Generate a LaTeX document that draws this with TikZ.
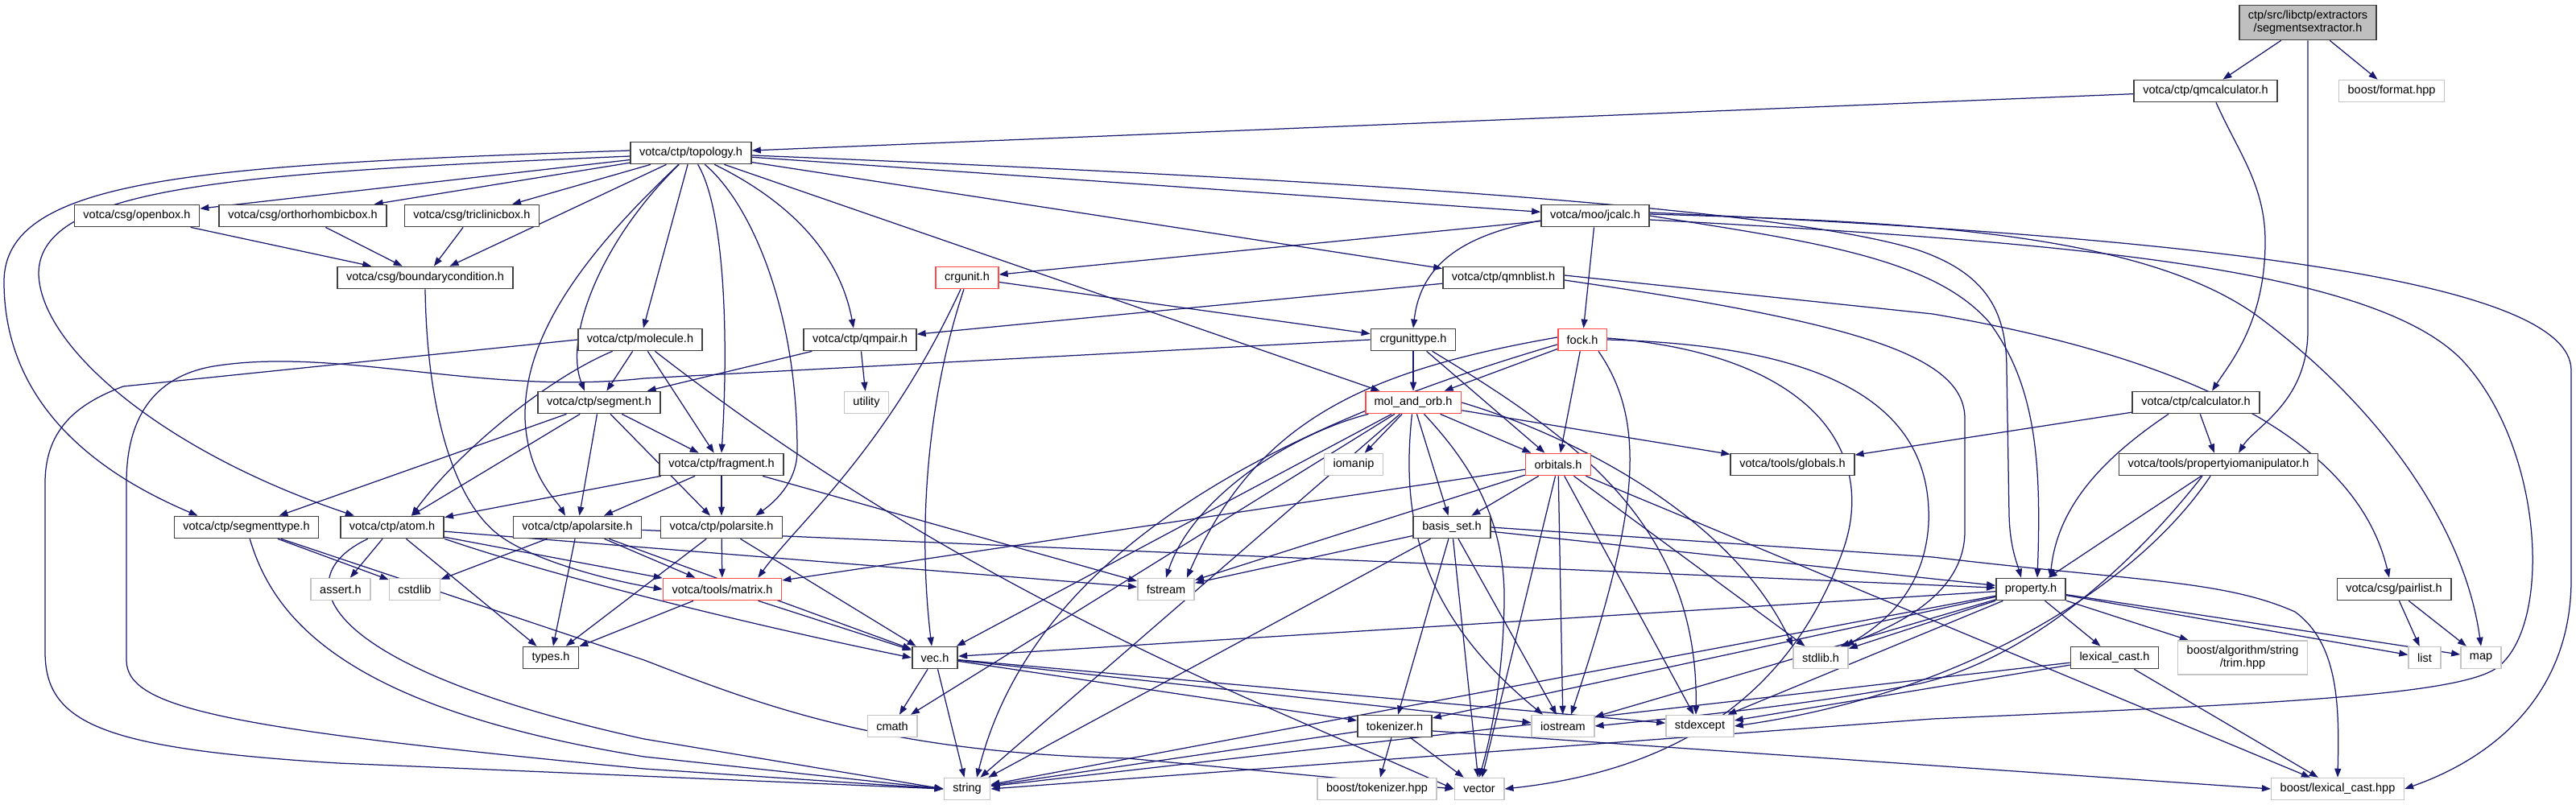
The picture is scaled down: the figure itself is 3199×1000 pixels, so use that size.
\documentclass[tikz,border=0pt]{standalone}
\usepackage{fontspec}
\setmainfont{Liberation Sans}
\usetikzlibrary{arrows.meta}
\definecolor{edgec}{HTML}{191970}
\definecolor{nodeb}{HTML}{404040}
\definecolor{redb}{HTML}{FF4A4A}
\definecolor{grayb}{HTML}{C4C4C4}
\definecolor{rootf}{HTML}{BFBFBF}
\pgfdeclarelayer{edgelayer}
\pgfsetlayers{edgelayer,main}
\begin{document}
\begin{tikzpicture}[x=1pt,y=-1pt,
  nb/.style={draw=nodeb, line width=1.7pt, fill=white, minimum height=27pt, inner xsep=11pt, inner ysep=2pt, font=\fontsize{14.5}{16}\selectfont},
  nr/.style={nb, draw=redb},
  ng/.style={nb, draw=grayb, line width=1.5pt},
  nroot/.style={nb, fill=rootf, align=center, minimum height=43pt, inner ysep=3pt},
  dep/.style={draw=edgec, line width=1.25pt, -{Triangle[length=11pt,width=8pt]}, fill=none},
]
\useasboundingbox (0,0) rectangle (3199,1000);

\node[nroot] (root) at (2866,28) {ctp/src/libctp/extractors\\/segmentsextractor.h};
\node[nb] (qmcalc) at (2739,113) {votca/ctp/qmcalculator.h};
\node[ng] (format) at (2970,113) {boost/format.hpp};
\node[nb] (topology) at (858,190) {votca/ctp/topology.h};
\node[nb] (openbox) at (170,268) {votca/csg/openbox.h};
\node[nb] (ortho) at (376,268) {votca/csg/orthorhombicbox.h};
\node[nb] (triclinic) at (586,268) {votca/csg/triclinicbox.h};
\node[nb] (jcalc) at (1981,268) {votca/moo/jcalc.h};
\node[nb] (boundary) at (528,345) {votca/csg/boundarycondition.h};
\node[nr] (crgunit) at (1201,345) {crgunit.h};
\node[nb] (qmnblist) at (1867,345) {votca/ctp/qmnblist.h};
\node[nb] (molecule) at (795,422) {votca/ctp/molecule.h};
\node[nb] (qmpair) at (1068,422) {votca/ctp/qmpair.h};
\node[nb] (crgunittype) at (1755,422) {crgunittype.h};
\node[nr] (fock) at (1965,422) {fock.h};
\node[nb] (segment) at (744,500) {votca/ctp/segment.h};
\node[ng] (utility) at (1076,500) {utility};
\node[nr] (molorb) at (1755,500) {mol\_and\_orb.h};
\node[nb] (calculator) at (2727,500) {votca/ctp/calculator.h};
\node[nb] (fragment) at (896,577) {votca/ctp/fragment.h};
\node[ng] (iomanip) at (1681,577) {iomanip};
\node[nr] (orbitals) at (1935,577) {orbitals.h};
\node[nb] (globals) at (2226,577) {votca/tools/globals.h};
\node[nb] (propio) at (2755,577) {votca/tools/propertyiomanipulator.h};
\node[nb] (segmenttype) at (306,655) {votca/ctp/segmenttype.h};
\node[nb] (atom) at (487,655) {votca/ctp/atom.h};
\node[nb] (apolarsite) at (717,655) {votca/ctp/apolarsite.h};
\node[nb] (polarsite) at (896,655) {votca/ctp/polarsite.h};
\node[nb] (basisset) at (1803,655) {basis\_set.h};
\node[ng] (asserth) at (423,732) {assert.h};
\node[ng] (cstdlib) at (515,732) {cstdlib};
\node[nr] (matrix) at (897,732) {votca/tools/matrix.h};
\node[ng] (fstream) at (1448,732) {fstream};
\node[nb] (property) at (2522,732) {property.h};
\node[nb] (pairlist) at (2973,732) {votca/csg/pairlist.h};
\node[nb] (types) at (684,817) {types.h};
\node[nb] (vec) at (1161,817) {vec.h};
\node[ng] (stdlib) at (2261,817) {stdlib.h};
\node[nb] (lexcast) at (2626,817) {lexical\_cast.h};
\node[ng, align=center, minimum height=42pt] (trim) at (2785,817) {boost/algorithm/string\\/trim.hpp};
\node[ng] (listh) at (3011,817) {list};
\node[ng] (maph) at (3081,817) {map};
\node[ng] (cmath) at (1108,902) {cmath};
\node[nb] (tokenizer) at (1732,902) {tokenizer.h};
\node[ng] (iostream) at (1941,902) {iostream};
\node[ng] (stdexcept) at (2111,902) {stdexcept};
\node[ng] (stringh) at (1201,980) {string};
\node[ng] (boosttok) at (1710,980) {boost/tokenizer.hpp};
\node[ng] (vector) at (1837,980) {vector};
\node[ng] (boostlex) at (2903,980) {boost/lexical\_cast.hpp};

\begin{pgfonlayer}{edgelayer}
\foreach \s/\t in {root/qmcalc, root/format, qmcalc/topology, calculator/propio, calculator/globals,
  propio/property, topology/openbox, topology/ortho, topology/triclinic, topology/boundary,
  topology/molecule, topology/molorb, topology/jcalc, topology/qmnblist,
  openbox/boundary, ortho/boundary, triclinic/boundary, jcalc/crgunit, jcalc/fock,
  crgunit/crgunittype, qmnblist/qmpair, qmpair/segment, qmpair/utility,
  molecule/segment, molecule/fragment,
  segment/segmenttype, segment/atom, segment/apolarsite, segment/polarsite, segment/fragment,
  fragment/atom, fragment/apolarsite, fragment/polarsite, fragment/fstream,
  segmenttype/cstdlib, atom/asserth, atom/types, atom/matrix, atom/fstream,
  apolarsite/cstdlib, apolarsite/types, apolarsite/matrix, apolarsite/vec, apolarsite/property,
  polarsite/types, polarsite/matrix, polarsite/vec, matrix/types, matrix/vec,
  crgunittype/molorb, crgunittype/orbitals, fock/molorb, fock/orbitals,
  molorb/iomanip, molorb/orbitals, molorb/basisset, molorb/globals, molorb/vec, molorb/cmath, molorb/stringh,
  orbitals/basisset, orbitals/matrix, orbitals/fstream, orbitals/iostream, orbitals/vector,
  orbitals/stdexcept, orbitals/stdlib, orbitals/boostlex,
  basisset/tokenizer, basisset/property, basisset/fstream, basisset/iostream, basisset/vector, basisset/stringh,
  vec/cmath, vec/stringh, vec/iostream, vec/stdexcept, vec/tokenizer,
  tokenizer/boosttok, tokenizer/vector, tokenizer/stringh,
  lexcast/boostlex, lexcast/stringh, lexcast/stdexcept,
  property/vec, property/stdlib, property/iostream, property/stdexcept, property/stringh,
  property/tokenizer, property/lexcast, property/trim, property/listh, property/maph,
  pairlist/listh, pairlist/maph}
  \draw[dep] (\s) -- (\t);

\draw[dep] ([yshift=-6pt]tokenizer.east) -- (boostlex.west);
\draw[dep] (root.south) -- (2866,410) .. controls (2866,500) and (2800,530) .. ([xshift=25pt]propio.north);
\draw[dep] ([xshift=13pt]qmcalc.south) .. controls (2780,190) and (2813,230) .. (2813,300) .. controls (2813,400) and (2770,450) .. ([xshift=20pt]calculator.north);
\draw[dep] ([xshift=-34pt]calculator.south) .. controls (2610,570) and (2555,630) .. ([xshift=24pt]property.north);
\draw[dep] ([xshift=-20pt]propio.south) .. controls (2650,700) and (2520,820) .. (2380,850) .. controls (2250,875) and (2100,890) .. (iostream.east);
\draw[dep] ([xshift=-10pt]propio.south) .. controls (2660,720) and (2450,860) .. (stdexcept.east);
\draw[dep] ([yshift=3pt]topology.west) .. controls (250,205) and (5,220) .. (5,350) .. controls (5,520) and (150,600) .. ([xshift=30pt]segmenttype.north west);
\draw[dep] ([yshift=-4pt]topology.west) .. controls (300,215) and (48,230) .. (48,340) .. controls (50,430) and (200,560) .. ([xshift=18pt]atom.north west);
\draw[dep] (topology) .. controls (745,300) and (700,420) .. ([xshift=-18pt]segment.north);
\draw[dep] (topology) .. controls (720,320) and (650,420) .. (652,520) .. controls (655,590) and (690,620) .. ([xshift=-15pt]apolarsite.north);
\draw[dep] (topology) .. controls (900,260) and (905,420) .. (fragment.north);
\draw[dep] (topology) .. controls (930,250) and (990,380) .. (990,560) .. controls (990,600) and (960,625) .. ([xshift=-34pt]polarsite.north east);
\draw[dep] (topology) .. controls (960,240) and (1040,300) .. ([xshift=-8pt]qmpair.north);
\draw[dep] ([yshift=-3pt]topology.east) .. controls (1600,220) and (2200,255) .. (2380,310) .. controls (2470,340) and (2492,390) .. (2492,460) -- (2495,640) .. controls (2496,680) and (2505,700) .. ([xshift=-12pt]property.north);
\draw[dep] (jcalc.east) .. controls (2250,300) and (2400,320) .. (2470,400) .. controls (2530,480) and (2535,580) .. ([xshift=8pt]property.north);
\draw[dep] ([yshift=2pt]jcalc.east) .. controls (2350,275) and (2650,285) .. (2800,390) .. controls (2950,500) and (3060,650) .. (maph.north);
\draw[dep] ([yshift=4pt]jcalc.east) .. controls (2750,295) and (3193,350) .. (3193,460) -- (3193,720) .. controls (3193,860) and (3100,940) .. (boostlex.east);
\draw[dep] ([yshift=-5pt]jcalc.east) .. controls (2550,300) and (2950,330) .. (3060,450) .. controls (3160,560) and (3170,780) .. (3100,830) .. controls (3050,865) and (2800,875) .. (2400,893) -- (stringh.east);
\draw[dep] ([yshift=-6pt]jcalc.west) .. controls (1830,290) and (1765,320) .. (crgunittype.north);
\draw[dep] ([xshift=-4pt]crgunit.south) .. controls (1150,500) and (1140,660) .. ([xshift=-4pt]vec.north);
\draw[dep] ([xshift=-8pt]crgunit.south) .. controls (1100,560) and (990,650) .. ([xshift=-30pt]matrix.north east);
\draw[dep] ([yshift=3pt]qmnblist.east) -- (2400,390) .. controls (2750,450) and (2930,560) .. ([xshift=-6pt]pairlist.north);
\draw[dep] ([yshift=-3pt]qmnblist.east) .. controls (2300,400) and (2440,440) .. (2440,520) -- (2440,660) .. controls (2440,740) and (2350,780) .. ([xshift=-10pt]stdlib.north east);
\draw[dep] (molecule) .. controls (680,470) and (570,560) .. ([xshift=24pt]atom.north);
\draw[dep] (molecule.west) -- (153,480) .. controls (100,500) and (56,530) .. (56,600) -- (56,810) .. controls (56,900) and (130,930) .. (420,948) -- (stringh.west);
\draw[dep] (crgunittype.west) -- (800,470) .. controls (600,492) and (420,430) .. (265,455) .. controls (190,468) and (157,520) .. (157,600) -- (157,820) .. controls (157,880) and (280,905) .. (800,955) -- (stringh.west);
\draw[dep] (segmenttype) .. controls (340,770) and (430,880) .. (800,940) -- (stringh.west);
\draw[dep] (segmenttype) -- (800,820) .. controls (950,878) and (1100,935) .. (1400,942) -- (vector.west);
\draw[dep] (atom) .. controls (350,720) and (400,830) .. (800,918) -- (stringh.west);
\draw[dep] (atom.south east) .. controls (700,720) and (950,780) .. (vec.west);
\draw[dep] (molecule) .. controls (1050,620) and (1300,760) .. (1600,890) -- (vector.west);
\draw[dep] (boundary.south) .. controls (530,500) and (560,620) .. (620,665) .. controls (660,695) and (750,720) .. (matrix.west);
\draw[dep] (crgunittype) .. controls (1950,540) and (2110,650) .. ([xshift=-5pt]stdexcept.north);
\draw[dep] ([yshift=-6pt]fock.west) .. controls (1550,540) and (1280,700) .. ([xshift=12pt]stringh.north);
\draw[dep] ([yshift=3pt]fock.west) .. controls (1700,460) and (1560,520) .. ([xshift=-10pt]fstream.north east);
\draw[dep] ([xshift=20pt]fock.south) .. controls (2050,530) and (2030,650) .. ([xshift=10pt]iostream.north);
\draw[dep] ([yshift=2pt]fock.east) .. controls (2250,440) and (2330,560) .. (2290,680) .. controls (2230,850) and (2100,955) .. (vector.east);
\draw[dep] (fock.east) .. controls (2300,430) and (2400,520) .. (2395,650) .. controls (2390,740) and (2330,780) .. ([xshift=-4pt]stdlib.north east);
\draw[dep] (molorb) .. controls (1600,540) and (1480,620) .. (fstream.north);
\draw[dep] (molorb) .. controls (1740,640) and (1760,760) .. ([xshift=-25pt]iostream.north);
\draw[dep] (molorb) .. controls (1830,580) and (1870,650) .. (1868,750) .. controls (1866,850) and (1850,920) .. (vector.north);
\draw[dep] (molorb.east) .. controls (1950,540) and (2150,640) .. (stdlib.north west);
\draw[dep] (basisset.east) -- (2400,692) .. controls (2650,722) and (2760,720) .. (2850,760) .. controls (2905,800) and (2905,880) .. (boostlex.north);
\end{pgfonlayer}
\end{tikzpicture}
\end{document}
